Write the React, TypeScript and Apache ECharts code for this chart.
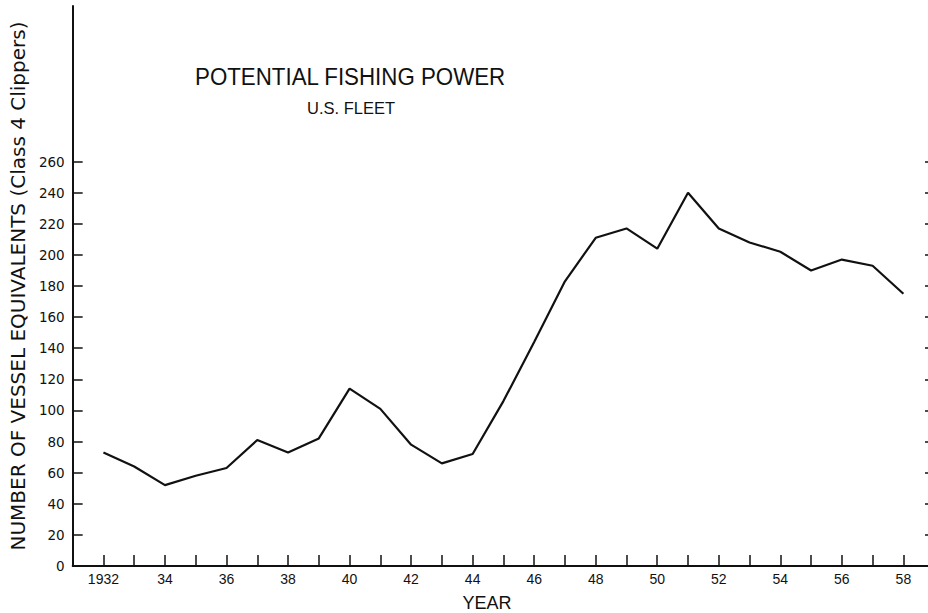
import React, { useEffect, useRef } from "react";
import * as echarts from "echarts";

const years = [1932, 1933, 1934, 1935, 1936, 1937, 1938, 1939, 1940, 1941, 1942, 1943, 1944, 1945, 1946, 1947, 1948, 1949, 1950, 1951, 1952, 1953, 1954, 1955, 1956, 1957, 1958];
const vesselEquivalents = [73, 64, 52, 58, 63, 81, 73, 82, 114, 101, 78, 66, 72, 106, 144, 183, 211, 217, 204, 240, 217, 208, 202, 190, 197, 193, 175];
const yTickValues = [0, 20, 40, 60, 80, 100, 120, 140, 160, 180, 200, 220, 240, 260];
const xLabelYears = [1932, 1934, 1936, 1938, 1940, 1942, 1944, 1946, 1948, 1950, 1952, 1954, 1956, 1958];

const titleText = "POTENTIAL FISHING POWER";
const subtitleText = "U.S. FLEET";
const yAxisName = "NUMBER OF VESSEL EQUIVALENTS (Class 4 Clippers)";
const xAxisName = "YEAR";

export default function App() {
  const ref = useRef<HTMLDivElement>(null);
  useEffect(() => {
    if (!ref.current) return;
    const chart = echarts.init(ref.current, null, { renderer: "svg" });
    const ink = "#111";
    chart.setOption({
      animation: false,
      backgroundColor: "#fff",
      grid: { left: 71.5, right: 0, top: 6, bottom: 47, containLabel: false },
      graphic: [
        {
          type: "text",
          x: 195,
          y: 77,
          scaleX: 0.93,
          style: { text: titleText, font: "24px 'Liberation Sans', Arial, sans-serif", fill: ink, align: "left", verticalAlign: "middle" },
        },
        {
          type: "text",
          x: 351,
          y: 108,
          style: { text: subtitleText, font: "16.5px 'Liberation Sans', Arial, sans-serif", fill: ink, align: "center", verticalAlign: "middle" },
        },
        {
          type: "text",
          x: 487,
          y: 603,
          style: { text: xAxisName, font: "18px 'Liberation Sans', Arial, sans-serif", fill: ink, align: "center", verticalAlign: "middle" },
        },
      ],
      xAxis: [
        {
          type: "value",
          position: "bottom",
          min: 1931,
          max: 1958.8,
          axisLine: { show: true, lineStyle: { color: ink, width: 2 } },
          axisTick: { show: true, inside: true, length: 11, customValues: years, lineStyle: { color: ink, width: 1.5 } },
          axisLabel: {
            show: true,
            customValues: xLabelYears,
            margin: 6,
            color: ink,
            fontFamily: "'Liberation Sans', Arial, sans-serif",
            fontSize: 14,
            formatter: (v: number) => (v === 1932 ? "1932" : String(v).slice(2)),
          },
          splitLine: { show: false },
        },
        {
          type: "value",
          position: "top",
          min: 1931,
          max: 1958.8,
          axisLine: { show: true, lineStyle: { color: ink, width: 1.5 } },
          axisTick: { show: false },
          axisLabel: { show: false },
          splitLine: { show: false },
        },
      ],
      yAxis: [
        {
          type: "value",
          position: "left",
          min: 0,
          max: 360,
          name: yAxisName,
          nameLocation: "middle",
          nameRotate: 90,
          nameGap: 41,
          nameTextStyle: { color: ink, fontFamily: "'DejaVu Sans', sans-serif", fontSize: 20 },
          axisLine: { show: true, lineStyle: { color: ink, width: 2 } },
          axisTick: { show: true, inside: true, length: 10, customValues: yTickValues, lineStyle: { color: ink, width: 1.5 } },
          axisLabel: {
            show: true,
            customValues: yTickValues,
            margin: 8,
            color: ink,
            fontFamily: "'DejaVu Sans', sans-serif",
            fontSize: 13.5,
          },
          splitLine: { show: false },
        },
        {
          type: "value",
          position: "right",
          min: 0,
          max: 360,
          axisLine: { show: false },
          axisTick: { show: true, inside: true, length: 3, customValues: yTickValues.slice(1), lineStyle: { color: ink, width: 1.5 } },
          axisLabel: { show: false },
          splitLine: { show: false },
        },
      ],
      series: [
        {
          type: "line",
          xAxisIndex: 0,
          yAxisIndex: 0,
          data: years.map((y, i) => [y, vesselEquivalents[i]]),
          showSymbol: false,
          symbol: "none",
          lineStyle: { color: ink, width: 2.2 },
          silent: true,
        },
      ],
    });
    return () => chart.dispose();
  }, []);
  return <div ref={ref} style={{ position: "fixed", left: 0, top: 0, width: 928, height: 613 }} />;
}
